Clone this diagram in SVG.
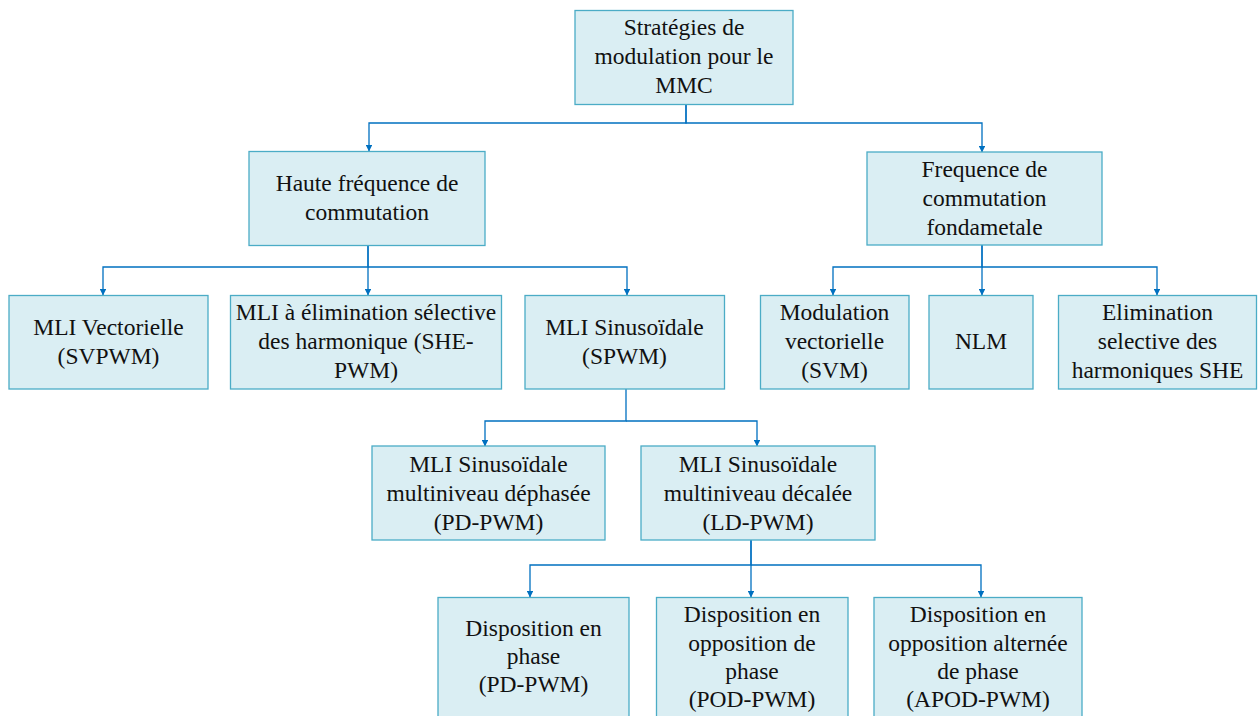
<svg xmlns="http://www.w3.org/2000/svg" width="1260" height="716" viewBox="0 0 1260 716">
  <defs>
    <style>
      .box rect { fill: #DAEEF3; stroke: #4BACC6; stroke-width: 1.3; }
      .box text { font-family: 'Liberation Serif', 'Times New Roman', 'DejaVu Serif', serif; font-size: 23.5px; fill: #111; text-anchor: middle; }
      .links path { fill: none; stroke: #0070C0; stroke-width: 1.3; marker-end: url(#arrow); }
    </style>
    <marker id="arrow" viewBox="0 0 8 8" refX="7.5" refY="4" markerWidth="6.5" markerHeight="6.5" markerUnits="userSpaceOnUse" orient="auto">
      <path d="M0,0 L8,4 L0,8 Z" fill="#0070C0"/>
    </marker>
  </defs>
  <rect width="1260" height="716" fill="#FFFFFF"/>

  <!-- connectors -->
  <g class="links">
    <path d="M686,105 V123 H369 V151"/>
    <path d="M686,105 V123 H982 V152"/>
    <path d="M368,246 V267 H103 V295"/>
    <path d="M368,246 V295"/>
    <path d="M368,267 H627 V295"/>
    <path d="M982,245 V267 H833 V295"/>
    <path d="M982,245 V295"/>
    <path d="M982,267 H1157 V295"/>
    <path d="M626,389 V421 H485 V446"/>
    <path d="M626,421 H757 V446"/>
    <path d="M751,540 V565 H530 V597"/>
    <path d="M751,540 V597"/>
    <path d="M751,565 H981 V597"/>
  </g>

  <g font-family="Liberation Serif, Times New Roman, DejaVu Serif, serif">
  <!-- level 0 -->
  <g id="root" class="box">
    <rect x="575" y="10.5" width="218" height="94"/>
    <text x="684" y="35">Stratégies de</text>
    <text x="684" y="64">modulation pour le</text>
    <text x="684" y="93">MMC</text>
  </g>

  <!-- level 1 -->
  <g id="haute-frequence" class="box">
    <rect x="249" y="151.5" width="236" height="94"/>
    <text x="367" y="191">Haute fréquence de</text>
    <text x="367" y="220">commutation</text>
  </g>
  <g id="frequence-fondamentale" class="box">
    <rect x="867" y="152" width="235" height="93"/>
    <text x="984.5" y="176.5">Frequence de</text>
    <text x="984.5" y="205.5">commutation</text>
    <text x="984.5" y="234.5">fondametale</text>
  </g>

  <!-- level 2 -->
  <g id="svpwm" class="box">
    <rect x="9" y="295.5" width="199" height="93.5"/>
    <text x="108.5" y="335">MLI Vectorielle</text>
    <text x="108.5" y="364">(SVPWM)</text>
  </g>
  <g id="she-pwm" class="box">
    <rect x="230.5" y="295.5" width="271" height="93.5"/>
    <text x="366" y="320">MLI à élimination sélective</text>
    <text x="366" y="349">des harmonique (SHE-</text>
    <text x="366" y="378">PWM)</text>
  </g>
  <g id="spwm" class="box">
    <rect x="525" y="295.5" width="199.5" height="93.5"/>
    <text x="624.5" y="335">MLI Sinusoïdale</text>
    <text x="624.5" y="364">(SPWM)</text>
  </g>
  <g id="svm" class="box">
    <rect x="760.5" y="295.5" width="148.5" height="93.5"/>
    <text x="834.5" y="320">Modulation</text>
    <text x="834.5" y="349">vectorielle</text>
    <text x="834.5" y="378">(SVM)</text>
  </g>
  <g id="nlm" class="box">
    <rect x="929" y="295.5" width="104" height="93.5"/>
    <text x="981" y="349">NLM</text>
  </g>
  <g id="she" class="box">
    <rect x="1058.5" y="295.5" width="198" height="93.5"/>
    <text x="1157.5" y="320">Elimination</text>
    <text x="1157.5" y="349">selective des</text>
    <text x="1157.5" y="378">harmoniques SHE</text>
  </g>

  <!-- level 3 -->
  <g id="ps-pwm" class="box">
    <rect x="372" y="446" width="233" height="94"/>
    <text x="488.5" y="472">MLI Sinusoïdale</text>
    <text x="488.5" y="501">multiniveau déphasée</text>
    <text x="488.5" y="530">(PD-PWM)</text>
  </g>
  <g id="ld-pwm" class="box">
    <rect x="641" y="446" width="234" height="94"/>
    <text x="758" y="472">MLI Sinusoïdale</text>
    <text x="758" y="501">multiniveau décalée</text>
    <text x="758" y="530">(LD-PWM)</text>
  </g>

  <!-- level 4 -->
  <g id="pd-pwm" class="box">
    <rect x="438" y="597.5" width="191" height="122"/>
    <text x="533.5" y="636">Disposition en</text>
    <text x="533.5" y="664">phase</text>
    <text x="533.5" y="692">(PD-PWM)</text>
  </g>
  <g id="pod-pwm" class="box">
    <rect x="656.5" y="597.5" width="191.5" height="122"/>
    <text x="752" y="622">Disposition en</text>
    <text x="752" y="650.5">opposition de</text>
    <text x="752" y="678.5">phase</text>
    <text x="752" y="707">(POD-PWM)</text>
  </g>
  <g id="apod-pwm" class="box">
    <rect x="874" y="597.5" width="208" height="122"/>
    <text x="978" y="622">Disposition en</text>
    <text x="978" y="650.5">opposition alternée</text>
    <text x="978" y="678.5">de phase</text>
    <text x="978" y="707">(APOD-PWM)</text>
  </g>
  </g>
</svg>
